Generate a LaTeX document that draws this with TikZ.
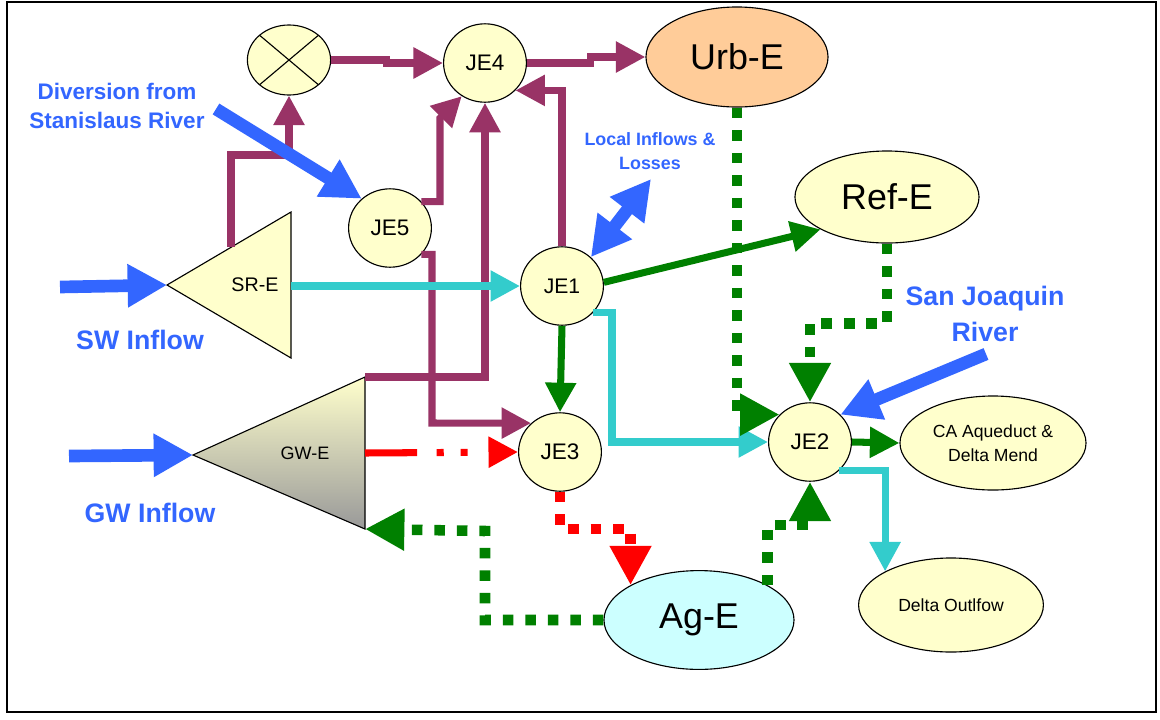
\documentclass[tikz,border=0pt]{standalone}
\usepackage{xcolor}
\usepackage{fontspec}
\setmainfont{Liberation Sans}
\usepackage{tikz}
\usetikzlibrary{arrows.meta,shapes.geometric}
\definecolor{plum}{HTML}{993366}
\definecolor{aqua}{HTML}{33CCCC}
\definecolor{leaf}{HTML}{008000}
\definecolor{river}{HTML}{3366FF}
\definecolor{cream}{HTML}{FFFFCC}
\definecolor{peach}{HTML}{FFCC99}
\definecolor{ice}{HTML}{CCFFFF}
\begin{document}
\begin{tikzpicture}[x=0.025cm, y=-0.025cm,
	junc/.style={draw, line width=0.8pt, ellipse, fill=cream, minimum width=2.07cm, minimum height=1.96cm, inner sep=0pt, font=\fontsize{16}{19}\selectfont},
	elem/.style={draw, line width=0.8pt, ellipse, fill=cream, inner sep=0pt, align=center},
	big/.style={font=\fontsize{25.5}{30}\selectfont},
	small/.style={font=\fontsize{12.5}{17}\selectfont},
	pipe/.style={line width=5pt, -{Triangle[length=21pt,width=21pt]}},
	dots/.style={line width=7.5pt, dash pattern=on 7.5pt off 8.5pt, -{Triangle[length=28pt,width=28pt]}},
	inflow/.style={river, line width=9pt, -{Triangle[length=28pt,width=29pt]}},
	lbl/.style={text=river, align=center, font=\bfseries\fontsize{19}{25}\selectfont}]
		\fill[white] (0,0) rectangle (1160,719);
		\useasboundingbox (0,0) rectangle (1160,719);
		\draw[line width=2pt] (7,2) rectangle (1156,712);

		\coordinate (SRtip) at (167,285);
		\coordinate (SRtop) at (291,212);
		\coordinate (SRbot) at (291,358);
		\coordinate (SRout) at (291,286);
		\coordinate (SRup) at (231,247);
		\coordinate (GWtip) at (193,455);
		\coordinate (GWtop) at (365,377);
		\coordinate (GWbot) at (365,529);
		\coordinate (GWout) at (365,453);
		\draw[line width=0.8pt, fill=cream] (SRtip) -- (SRtop) -- (SRbot) -- cycle;
		\shade[top color=cream, bottom color=black!40] (GWtip) -- (GWtop) -- (GWbot) -- cycle;
		\draw[line width=0.8pt] (GWtip) -- (GWtop) -- (GWbot) -- cycle;
		\node[font=\fontsize{14}{17}\selectfont] (SRE) at (255,285) {SR-E};
		\node[font=\fontsize{12.8}{15}\selectfont] (GWE) at (305,453) {GW-E};

		\node[elem, minimum width=2.08cm, minimum height=1.75cm, path picture={
			\draw[line width=0.8pt] (path picture bounding box.north west) -- (path picture bounding box.south east);
			\draw[line width=0.8pt] (path picture bounding box.north east) -- (path picture bounding box.south west);}] (X) at (289,60) {};
		\node[junc] (JE4) at (485,63) {JE4};
		\node[junc] (JE5) at (390,228) {JE5};
		\node[junc, font=\fontsize{15}{18}\selectfont] (JE1) at (562,286) {JE1};
		\node[junc] (JE3) at (560,452) {JE3};
		\node[junc] (JE2) at (810,442) {JE2};
		\node[elem, big, fill=peach, minimum width=4.55cm, minimum height=2.5cm] (UrbE) at (737,57) {Urb-E};
		\node[elem, big, minimum width=4.6cm, minimum height=2.3cm] (RefE) at (887,197) {Ref-E};
		\node[elem, big, fill=ice, minimum width=4.75cm, minimum height=2.47cm] (AgE) at (699,620) {Ag-E};
		\node[elem, small, minimum width=4.65cm, minimum height=2.35cm] (CA) at (993,443) {CA Aqueduct \&\\Delta Mend};
		\node[elem, small, minimum width=4.62cm, minimum height=2.35cm] (DO) at (951,605) {Delta Outlfow};

		\draw[pipe, plum] (SRup) |- (289,155) -- (X.south);
		\draw[pipe, plum] (X.east) -- ++(55,0) |- (JE4.west);
		\draw[pipe, plum] (JE4.east) -- ++(64,0) |- (UrbE.west);
		\draw[pipe, plum] (JE5.40) -| (440,118) -- (JE4.-125);
		\draw[pipe, plum] (GWtop) -| (JE4.south);
		\draw[pipe, plum] (JE5.-40) -| (432,423) -- (JE3.135);
		\draw[pipe, plum] (JE1.north) |- (JE4.-42);

		\draw[pipe, aqua] (SRout) -- (JE1.west);
		\draw[pipe, aqua] (JE1.-40) -| (612,442) -- (JE2.west);
		\draw[pipe, aqua] (JE2.-45) -| (DO.153);

		\draw[pipe, leaf] (JE1.5) -- (RefE.206);
		\draw[pipe, leaf] (JE1.south) -- (JE3.north);
		\draw[pipe, leaf] (JE2.east) -- (CA.west);
		\draw[dots, leaf] (UrbE.south) |- (JE2.138);
		\draw[dots, leaf] (RefE.south) -- ++(0,80) -| (JE2.north);
		\draw[dots, leaf] (AgE.27) -- ++(0,-60) -| (JE2.south);
		\draw[dots, leaf] (AgE.west) -| (485,531) -- (GWbot);

		\draw[pipe, red, dash pattern=on 37pt off 14pt on 5pt off 12pt on 5pt off 16pt] (GWout) -- (JE3.west);
		\draw[dots, red] (JE3.south) -- ++(0,37) -| (AgE.153);

		\coordinate (swin) at (60,287);
		\coordinate (gwin) at (69,456);
		\coordinate (divin) at (216,109);
		\coordinate (sjin) at (986,354);
		\coordinate (lossout) at (651,179);
		\draw[inflow] (swin) -- (SRtip);
		\draw[inflow] (gwin) -- (GWtip);
		\draw[inflow] (divin) -- (JE5.134);
		\draw[inflow] (sjin) -- (JE2.42);
		\draw[inflow, {Triangle[length=28pt,width=29pt]}-{Triangle[length=28pt,width=29pt]}] (JE1.45) -- (lossout);

		\node[lbl, font=\bfseries\fontsize{16}{20}\selectfont] (divlbl) at (117,106) {Diversion from\\Stanislaus River};
		\node[lbl] (swlbl) at (140,340) {SW Inflow};
		\node[lbl] (gwlbl) at (150,513) {GW Inflow};
		\node[lbl, font=\bfseries\fontsize{12.7}{17.5}\selectfont] (losslbl) at (650,151) {Local Inflows \&\\Losses};
		\node[lbl] (sjlbl) at (985,314) {San Joaquin\\River};
	\end{tikzpicture}
\end{document}
